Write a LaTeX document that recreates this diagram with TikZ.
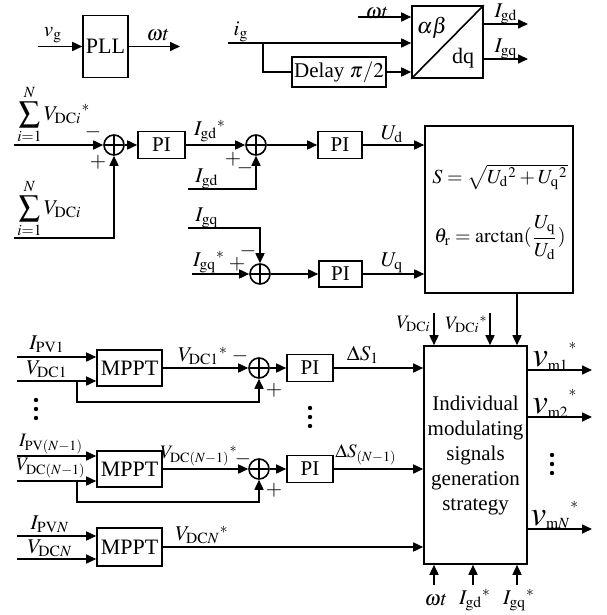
\documentclass[tikz,border=0pt]{standalone}
\usepackage{amsmath}
\usepackage{mathptmx}
\usepackage{fontspec}
\setmainfont{Liberation Serif}
\usetikzlibrary{positioning, arrows.meta, calc}
\tikzset{
  box/.style={draw, line width=0.8pt, inner sep=1pt, align=center},
  sumc/.style={draw, circle, line width=0.8pt, minimum size=10pt, inner sep=0pt,
    path picture={\draw[line width=0.8pt] (path picture bounding box.north) -- (path picture bounding box.south)
      (path picture bounding box.west) -- (path picture bounding box.east);}},
  arr/.style={-{Triangle[length=5pt,width=4.5pt]}, line width=0.8pt},
  ln/.style={line width=0.8pt},
  lbl/.style={inner sep=0pt},
  small/.style={inner sep=0pt, font=\fontsize{9.5}{11}\selectfont},
  sgn/.style={inner sep=0pt},
  dots/.style={fill, circle, inner sep=0pt, minimum size=2.2pt}
}

\begin{document}
\begin{tikzpicture}[x=0.5pt, y=-0.5pt, font=\fontsize{10.5}{12.5}\selectfont]
  \useasboundingbox (0,0) rectangle (606,615);

  % PLL
  \node[box, minimum width=22.5pt, minimum height=31pt, font=\fontsize{11}{13}\selectfont] (pll) at (105.5,46.5) {PLL};
  \coordinate (vg) at (38,46.5);
  \coordinate (wt) at (180,46.5);
  \draw[arr] (vg) -- (pll);
  \draw[arr] (pll) -- (wt);
  \node[lbl] at (53,35) {$v_{\mathrm{g}}$};
  \node[lbl] at (158,35) {$\omega t$};

  % alpha-beta / dq transform
  \node[box, minimum width=35.5pt, minimum height=36pt] (abdq) at (447.5,42) {};
  \draw[ln] (abdq.south west) -- (abdq.north east);
  \node[lbl, font=\fontsize{11}{13}\selectfont] at (432,28) {$\alpha\beta$};
  \node[lbl, font=\fontsize{11}{13}\selectfont] at (463,58) {dq};
  \node[box, minimum width=46pt, minimum height=15pt] (delay) at (339,72) {Delay $\pi/2$};
  \coordinate (ig) at (228,43);
  \coordinate (igb) at (263,43);
  \coordinate (wtin) at (358,17);
  \coordinate (igd) at (528,24);
  \coordinate (igq) at (528,59);
  \draw[arr] (ig) -- (ig -| abdq.west);
  \draw[ln] (igb) |- (delay);
  \draw[arr] (delay) -- (delay -| abdq.west);
  \draw[arr] (wtin) -- (wtin -| abdq.west);
  \draw[arr] (igd -| abdq.east) -- (igd);
  \draw[arr] (igq -| abdq.east) -- (igq);
  \node[lbl] at (241,32) {$i_{\mathrm{g}}$};
  \node[lbl] at (377,13) {$\omega t$};
  \node[lbl] at (506,14) {$I_{\mathrm{gd}}$};
  \node[lbl] at (506,49) {$I_{\mathrm{gq}}$};

  % DC voltage loop and current loops
  \node[sumc] (s1) at (114,145) {};
  \node[box, minimum width=23.5pt, minimum height=13.5pt] (pi1) at (161.5,145) {PI};
  \node[sumc] (s2) at (256,145) {};
  \node[box, minimum width=22pt, minimum height=13.5pt] (pi2) at (340,145) {PI};
  \node[sumc] (s3) at (260,274) {};
  \node[box, minimum width=21.5pt, minimum height=13pt] (pi3) at (340.5,274) {PI};
  \node[box, minimum width=74pt, minimum height=83.5pt] (sth) at (499,209.5) {};
  \node[small, font=\fontsize{10}{12}\selectfont] at (500,177) {$S=\sqrt{U_{\mathrm{d}}{}^{2}+U_{\mathrm{q}}{}^{2}}$};
  \node[small, font=\fontsize{10}{12}\selectfont] at (500,238) {$\theta_{\mathrm{r}}=\arctan(\dfrac{U_{\mathrm{q}}}{U_{\mathrm{d}}})$};

  \coordinate (vref) at (14,145);
  \coordinate (vsum) at (14,238);
  \coordinate (igdm) at (188,189);
  \coordinate (igqm) at (188,228);
  \coordinate (igqr) at (192,274);
  \draw[arr] (vref) -- (s1);
  \draw[arr] (vsum) -| (s1);
  \draw[arr] (s1) -- (pi1);
  \draw[arr] (pi1) -- (s2);
  \draw[arr] (igdm) -| (s2);
  \draw[arr] (s2) -- (pi2);
  \draw[arr] (pi2) -- (pi2 -| sth.west);
  \draw[arr] (igqm) -| (s3);
  \draw[arr] (igqr) -- (s3);
  \draw[arr] (s3) -- (pi3);
  \draw[arr] (pi3) -- (pi3 -| sth.west);

  \node[lbl, anchor=west] at (17,115) {$\displaystyle\sum_{i=1}^{N}V_{\mathrm{DC}i}{}^{*}$};
  \node[lbl, anchor=west] at (17,209) {$\displaystyle\sum_{i=1}^{N}V_{\mathrm{DC}i}$};
  \node[sgn] at (93,132) {$\boldsymbol{-}$};
  \node[sgn] at (98,162) {$+$};
  \node[lbl] at (210,131) {$I_{\mathrm{gd}}{}^{*}$};
  \node[sgn] at (233,159) {$+$};
  \node[sgn] at (245,168) {$\boldsymbol{-}$};
  \node[lbl] at (207,179) {$I_{\mathrm{gd}}$};
  \node[lbl] at (207,218) {$I_{\mathrm{gq}}$};
  \node[sgn] at (248,251) {$\boldsymbol{-}$};
  \node[lbl] at (209,262) {$I_{\mathrm{gq}}{}^{*}$};
  \node[sgn] at (237,264) {$+$};
  \node[lbl] at (392,134) {$U_{\mathrm{d}}$};
  \node[lbl] at (392,263) {$U_{\mathrm{q}}$};

  % modulating signals block
  \node[box, minimum width=51.5pt, minimum height=109pt, font=\fontsize{10.5}{12.5}\selectfont] (mod) at (475.5,455)
    {Individual\\modulating\\signals\\generation\\strategy};
  \coordinate (tapv) at (434,313);
  \coordinate (tapr) at (490,313);
  \coordinate (taps) at (517,293);
  \draw[arr] (tapv) -- (tapv |- mod.north);
  \draw[arr] (tapr) -- (tapr |- mod.north);
  \draw[arr] (taps |- sth.south) -- (taps |- mod.north);
  \node[small, anchor=east] at (431,324) {$V_{\mathrm{DC}i}$};
  \node[small, anchor=east] at (488,324) {$V_{\mathrm{DC}i}{}^{*}$};

  % MPPT chains
  \node[box, minimum width=32.5pt, minimum height=18pt, font=\fontsize{11}{13}\selectfont] (mp1) at (129.5,368) {MPPT};
  \node[sumc] (s4) at (259,368) {};
  \node[box, minimum width=23pt, minimum height=13.5pt] (pi4) at (310,368) {PI};
  \node[box, minimum width=32.5pt, minimum height=18pt, font=\fontsize{11}{13}\selectfont] (mp2) at (129.5,469) {MPPT};
  \node[sumc] (s5) at (259,469) {};
  \node[box, minimum width=23pt, minimum height=13.5pt] (pi5) at (310,469) {PI};
  \node[box, minimum width=32.5pt, minimum height=19pt, font=\fontsize{11}{13}\selectfont] (mp3) at (129.5,547) {MPPT};

  \coordinate (ipv1) at (17,357);
  \coordinate (vdc1) at (17,381);
  \coordinate (fb1) at (77,402);
  \coordinate (ipv2) at (17,456);
  \coordinate (vdc2) at (17,481);
  \coordinate (fb2) at (77,502);
  \coordinate (ipv3) at (17,536);
  \coordinate (vdc3) at (17,559);
  \draw[arr] (ipv1) -- (ipv1 -| mp1.west);
  \draw[arr] (vdc1) -- (vdc1 -| mp1.west);
  \draw[arr] (fb1 |- vdc1) -- (fb1) -| (s4);
  \draw[arr] (mp1) -- (s4);
  \draw[arr] (s4) -- (pi4);
  \draw[arr] (pi4) -- (pi4 -| mod.west);
  \draw[arr] (ipv2) -- (ipv2 -| mp2.west);
  \draw[arr] (vdc2) -- (vdc2 -| mp2.west);
  \draw[arr] (fb2 |- vdc2) -- (fb2) -| (s5);
  \draw[arr] (mp2) -- (s5);
  \draw[arr] (s5) -- (pi5);
  \draw[arr] (pi5) -- (pi5 -| mod.west);
  \draw[arr] (ipv3) -- (ipv3 -| mp3.west);
  \draw[arr] (vdc3) -- (vdc3 -| mp3.west);
  \draw[arr] (mp3) -- (mp3 -| mod.west);

  \node[lbl] at (47,344) {$I_{\mathrm{PV1}}$};
  \node[lbl] at (47,369) {$V_{\mathrm{DC1}}$};
  \node[lbl] at (203,356) {$V_{\mathrm{DC1}}{}^{*}$};
  \node[sgn] at (240,356) {$\boldsymbol{-}$};
  \node[sgn] at (274,390) {$+$};
  \node[lbl] at (363,355) {$\Delta S_{1}$};
  \node[small] at (51,444) {$I_{\mathrm{PV}(N-1)}$};
  \node[small] at (51,468) {$V_{\mathrm{DC}(N-1)}$};
  \node[small] at (199,456) {$V_{\mathrm{DC}(N-1)}{}^{*}$};
  \node[sgn] at (243,459) {$\boldsymbol{-}$};
  \node[sgn] at (274,490) {$+$};
  \node[small] at (366,455) {$\Delta S_{(N-1)}$};
  \node[lbl] at (50,524) {$I_{\mathrm{PV}N}$};
  \node[lbl] at (50,548) {$V_{\mathrm{DC}N}$};
  \node[lbl] at (202,535) {$V_{\mathrm{DC}N}{}^{*}$};

  % vertical dots
  \foreach \x/\y in {36/400, 310/408, 552/455} {
    \node[dots] at (\x,\y) {};
    \node[dots] at (\x,\y+9) {};
    \node[dots] at (\x,\y+18) {};
  }

  % outputs
  \foreach \y/\n in {370/1, 417/2, 529/N} {
    \coordinate (out\n) at (592,\y);
    \draw[arr] (out\n -| mod.east) -- (out\n);
    \node[lbl] at (555,\y-14) {$\mbox{\LARGE$v$}_{\mathrm{m}\n}{}^{\raisebox{5pt}{$\scriptstyle *$}}$};
  }

  % bottom inputs
  \foreach \x/\t [count=\i] in {434/{$\omega t$}, 473/{$I_{\mathrm{gd}}{}^{*}$}, 517/{$I_{\mathrm{gq}}{}^{*}$}} {
    \coordinate (bin\i) at (\x,585);
    \draw[arr] (bin\i) -- (bin\i |- mod.south);
    \node[lbl] at (\x+2,600) {\t};
  }
\end{tikzpicture}
\end{document}
